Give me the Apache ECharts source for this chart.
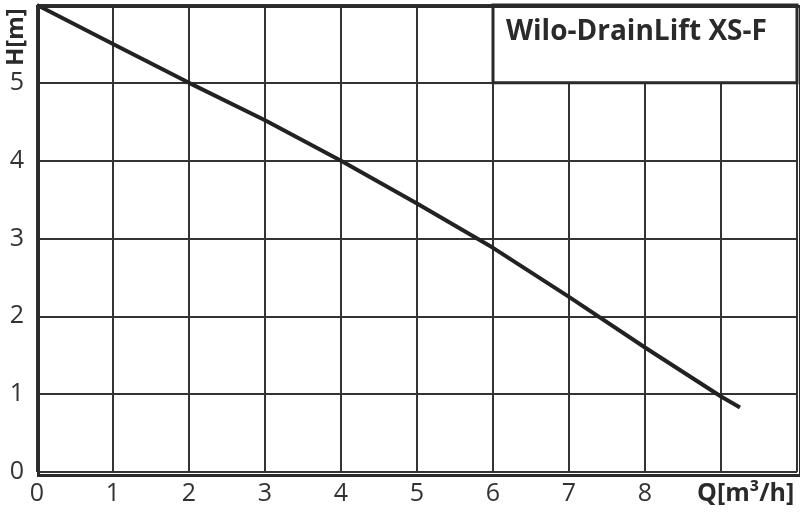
<!DOCTYPE html>
<html><head><meta charset="utf-8">
<script src="https://cdn.jsdelivr.net/npm/echarts@6/dist/echarts.min.js"></script>
<style>html,body{margin:0;padding:0;background:#fff}#c{width:800px;height:513px}</style>
</head><body><div id="c"></div>
<script>
var flowQ = [0, 1, 2, 3, 4, 5, 6, 7, 8, 9, 9.25];
var headH = [6, 5.5, 5.0, 4.52, 4.0, 3.45, 2.88, 2.25, 1.6, 0.97, 0.83];
var xTickLabels = ['0','1','2','3','4','5','6','7','8','',''];
var yTickLabels = ['0','1','2','3','4','5',''];
var titleText = 'Wilo-DrainLift XS-F';
var xName = 'Q[m³/h]';
var yName = 'H[m]';
var boxFrom = [6, 5], boxTo = [10, 6];

var FONT = 'Open Sans';
var chart = echarts.init(document.getElementById('c'), null, {renderer:'canvas'});
chart.setOption({
  animation:false,
  backgroundColor:'#fff',
  grid:{left:37, right:3, top:5, bottom:41, containLabel:false},
  xAxis:{type:'value', min:0, max:10, interval:1,
    axisLine:{show:false}, axisTick:{show:false},
    axisLabel:{fontFamily:FONT, fontSize:25, color:'#333', margin:9,
      formatter:function(v){return xTickLabels[Math.round(v)];}},
    splitLine:{show:true, lineStyle:{color:'#333', width:2}}},
  yAxis:{type:'value', min:0, max:6, interval:1,
    axisLine:{show:false}, axisTick:{show:false},
    axisLabel:{fontFamily:FONT, fontSize:25, color:'#333', margin:13, hideOverlap:false,
      formatter:function(v){return yTickLabels[Math.round(v)];}},
    splitLine:{show:true, lineStyle:{color:'#333', width:2}}},
  graphic:[
    {type:'rect', left:36, top:4, shape:{width:762, height:469}, style:{fill:null, stroke:'#2a2a2a', lineWidth:3}, z:10},
    {type:'text', left:697, top:481, style:{text:xName, font:'bold 25px '+FONT, fill:'#2a2a2a'}},
    {type:'text', x:16, y:66, rotation:Math.PI/2, style:{text:yName, font:'bold 24px '+FONT, fill:'#2a2a2a', textAlign:'left', textVerticalAlign:'middle'}, z:20},
    {type:'text', left:506, top:18, style:{text:titleText, font:'bold 28px '+FONT, fill:'#2a2a2a'}, z:20}
  ],
  series:[{
    type:'line', data:flowQ.map(function(q,i){return [q, headH[i]];}),
    showSymbol:false, smooth:false,
    lineStyle:{color:'#222', width:4},
    markArea:{silent:true,
      itemStyle:{color:'#fff', borderColor:'#2a2a2a', borderWidth:3},
      label:{show:false},
      data:[[{coord:boxFrom},{coord:boxTo}]]}
  }]
});
</script></body></html>
